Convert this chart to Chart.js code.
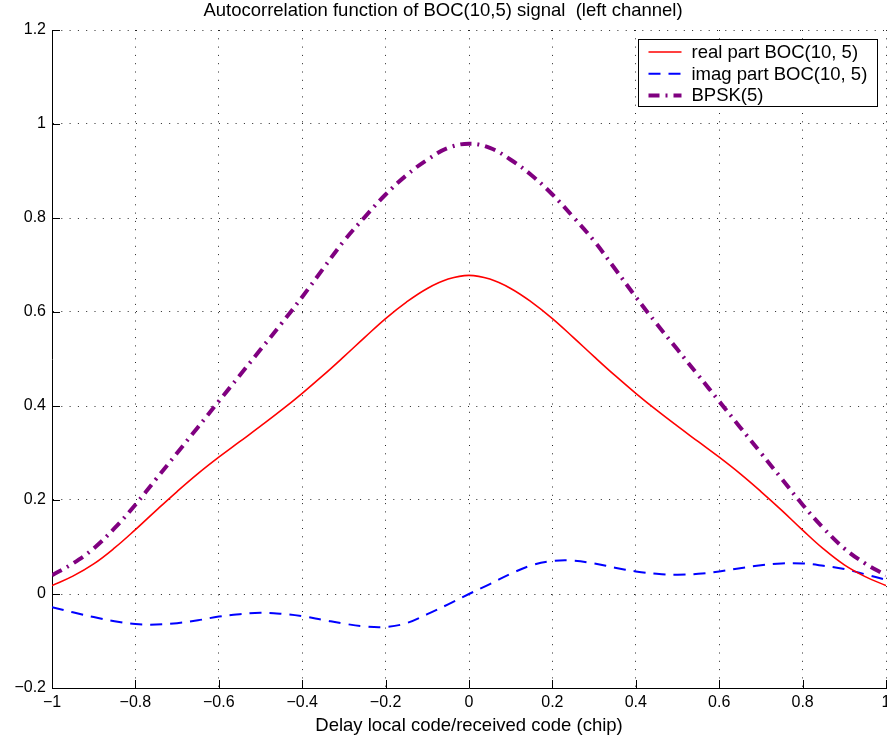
<!DOCTYPE html>
<html>
<head>
<meta charset="utf-8">
<script src="https://cdn.jsdelivr.net/npm/chart.js@4.4.1/dist/chart.umd.min.js"></script>
<style>
  html, body { margin: 0; padding: 0; background: #fff; }
  #wrap { width: 887px; height: 745px; }
</style>
</head>
<body>
<div id="wrap"><canvas id="myChart" width="887" height="745"></canvas></div>
<script>
// delay axis (chip)
const delays = [-1, -0.95, -0.9, -0.85, -0.8, -0.75, -0.7, -0.65, -0.6, -0.55, -0.5, -0.45, -0.4, -0.35, -0.3, -0.25, -0.2, -0.15, -0.1, -0.05,
  0, 0.05, 0.1, 0.15, 0.2, 0.25, 0.3, 0.35, 0.4, 0.45, 0.5, 0.55, 0.6, 0.65, 0.7, 0.75, 0.8, 0.85, 0.9, 0.95, 1];

const realPart = [0.018, 0.038, 0.064, 0.098, 0.137, 0.178, 0.218, 0.256, 0.291, 0.324, 0.357, 0.391, 0.427, 0.465, 0.505, 0.546, 0.586, 0.621, 0.65, 0.67,
  0.678, 0.67, 0.65, 0.621, 0.586, 0.546, 0.505, 0.465, 0.427, 0.391, 0.357, 0.324, 0.291, 0.256, 0.218, 0.178, 0.136, 0.096, 0.062, 0.037, 0.018];

const imagPart = [-0.028, -0.039, -0.049, -0.058, -0.064, -0.065, -0.062, -0.056, -0.048, -0.043, -0.04, -0.042, -0.047, -0.055, -0.063, -0.069, -0.07, -0.062, -0.043, -0.022,
  0, 0.021, 0.043, 0.061, 0.07, 0.071, 0.065, 0.056, 0.048, 0.043, 0.041, 0.043, 0.048, 0.055, 0.061, 0.065, 0.065, 0.06, 0.053, 0.042, 0.03];

const bpsk = [0.04, 0.065, 0.097, 0.14, 0.19, 0.245, 0.3, 0.355, 0.41, 0.465, 0.52, 0.575, 0.632, 0.692, 0.751, 0.802, 0.85, 0.891, 0.924, 0.949,
  0.958, 0.949, 0.924, 0.891, 0.85, 0.802, 0.751, 0.692, 0.632, 0.575, 0.52, 0.465, 0.41, 0.355, 0.3, 0.245, 0.19, 0.14, 0.097, 0.065, 0.04];

const xTicks = [-1, -0.8, -0.6, -0.4, -0.2, 0, 0.2, 0.4, 0.6, 0.8, 1];
const yTicks = [-0.2, 0, 0.2, 0.4, 0.6, 0.8, 1, 1.2];

const FONT = '"Liberation Sans", Arial, Helvetica, sans-serif';

function pts(ys){ return delays.map((x, i) => ({x: x, y: ys[i]})); }
function fmt(v){
  const r = Math.round(v * 10) / 10;
  return String(r).replace('-', '\u2212');
}

// inward tick marks + legend box (matlab style)
const matlabDecor = {
  id: 'matlabDecor',
  afterDatasetsDraw(chart){
    const ctx = chart.ctx, a = chart.chartArea;
    const xs = chart.scales.x, ys = chart.scales.y;
    ctx.save();
    ctx.strokeStyle = '#000';
    ctx.lineWidth = 1;
    ctx.beginPath();
    xTicks.forEach(t => {
      const px = Math.round(xs.getPixelForValue(t)) + 0.5;
      ctx.moveTo(px, a.bottom); ctx.lineTo(px, a.bottom - 8);
    });
    yTicks.forEach(t => {
      const py = Math.round(ys.getPixelForValue(t)) + 0.5;
      ctx.moveTo(a.left, py); ctx.lineTo(a.left + 8, py);
    });
    ctx.stroke();

    // legend
    const sets = chart.data.datasets;
    ctx.font = '18.5px ' + FONT;
    let tw = 0;
    sets.forEach(d => { tw = Math.max(tw, ctx.measureText(d.label).width); });
    const bw = Math.round(10 + 33 + 10 + tw + 10), bh = 67;
    const bx = Math.round(a.right - 9 - bw) + 0.5, by = Math.round(a.top + 9) + 0.5;
    ctx.fillStyle = '#fff';
    ctx.fillRect(bx, by, bw, bh);
    ctx.strokeStyle = '#000';
    ctx.lineWidth = 1;
    ctx.strokeRect(bx, by, bw, bh);
    sets.forEach((d, i) => {
      const ry = by + 12.5 + i * 21.7;
      ctx.save();
      ctx.strokeStyle = d.borderColor;
      ctx.lineWidth = d.borderWidth;
      ctx.setLineDash(d.borderDash || []);
      ctx.beginPath();
      ctx.moveTo(bx + 10, ry); ctx.lineTo(bx + 43, ry);
      ctx.stroke();
      ctx.restore();
      ctx.fillStyle = '#000';
      ctx.textBaseline = 'middle';
      ctx.textAlign = 'left';
      ctx.fillText(d.label, bx + 53, ry + 1);
    });
    ctx.restore();
  }
};

const context = document.getElementById('myChart').getContext('2d');
const myChart = new Chart(context, {
  type: 'line',
  data: {
    datasets: [
      {label: 'real part BOC(10, 5)', data: pts(realPart), borderColor: '#ff0000', borderWidth: 1.6, borderDash: []},
      {label: 'imag part BOC(10, 5)', data: pts(imagPart), borderColor: '#0000ff', borderWidth: 2, borderDash: [12, 8]},
      {label: 'BPSK(5)', data: pts(bpsk), borderColor: '#800080', borderWidth: 4, borderDash: [11, 6, 2, 6]}
    ]
  },
  plugins: [matlabDecor],
  options: {
    responsive: false,
    animation: false,
    layout: {padding: {left: 0, right: 1, top: 0, bottom: 0}},
    elements: {
      point: {radius: 0},
      line: {tension: 0.4, fill: false}
    },
    plugins: {
      legend: {display: false},
      tooltip: {enabled: false},
      title: {
        display: true,
        text: 'Autocorrelation function of BOC(10,5) signal  (left channel)',
        color: '#000',
        font: {family: FONT, size: 18.5, weight: 'normal', lineHeight: 1.2},
        padding: {top: 0, bottom: 7.8}
      }
    },
    scales: {
      x: {
        type: 'linear',
        min: -1, max: 1,
        afterBuildTicks: s => { s.ticks = xTicks.map(v => ({value: v})); },
        afterFit: s => { s.height = 57; s.paddingLeft = 0; s.paddingRight = 0; },
        grid: {color: 'rgba(0,0,0,0.85)', lineWidth: 1, drawTicks: false},
        border: {display: true, color: '#000', width: 1, dash: [1, 7.3]},
        ticks: {
          color: '#000', padding: 5, maxRotation: 0, autoSkip: false,
          font: {family: FONT, size: 16},
          callback: v => fmt(v)
        },
        title: {
          display: true, text: 'Delay local code/received code (chip)', color: '#000',
          font: {family: FONT, size: 18.5}, padding: {top: 0, bottom: 8}
        }
      },
      y: {
        type: 'linear',
        min: -0.2, max: 1.2,
        afterBuildTicks: s => { s.ticks = yTicks.map(v => ({value: v})); },
        afterFit: s => { s.width = 52; s.paddingTop = 0; s.paddingBottom = 0; },
        grid: {color: 'rgba(0,0,0,0.85)', lineWidth: 1, drawTicks: false},
        border: {display: true, color: '#000', width: 1, dash: [1, 7.3]},
        ticks: {
          color: '#000', padding: 6,
          font: {family: FONT, size: 16},
          callback: v => fmt(v)
        }
      }
    }
  }
});
</script>
</body>
</html>
